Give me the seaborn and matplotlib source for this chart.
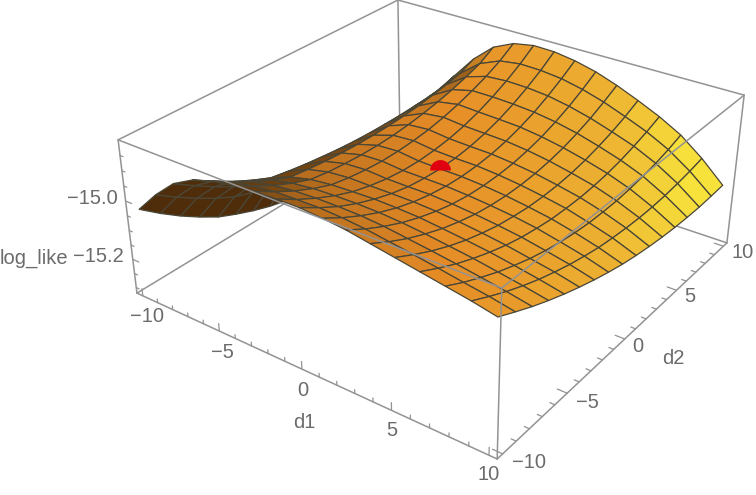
import numpy as np
import seaborn as sns
import matplotlib
matplotlib.use("Agg")
import matplotlib.pyplot as plt

sns.set_theme(style="white")
plt.rcParams['font.family'] = ['Liberation Sans', 'DejaVu Sans']

d1_grid = [-10, -8.75, -7.5, -6.25, -5, -3.75, -2.5, -1.25, 0, 1.25, 2.5, 3.75, 5, 6.25, 7.5, 8.75, 10]
d2_grid = [-10, -8.75, -7.5, -6.25, -5, -3.75, -2.5, -1.25, 0, 1.25, 2.5, 3.75, 5, 6.25, 7.5, 8.75, 10]
# one row per d2 value
log_like = [
    [-15.031,-14.956,-14.894,-14.857,-14.836,-14.823,-14.816,-14.813,-14.813,-14.818,-14.826,-14.839,-14.852,-14.865,-14.878,-14.891,-14.907],
    [-15.082,-15.000,-14.936,-14.896,-14.874,-14.861,-14.853,-14.851,-14.850,-14.854,-14.861,-14.872,-14.883,-14.895,-14.908,-14.920,-14.935],
    [-15.128,-15.040,-14.975,-14.932,-14.908,-14.894,-14.886,-14.883,-14.883,-14.885,-14.891,-14.901,-14.911,-14.922,-14.934,-14.947,-14.962],
    [-15.169,-15.076,-15.010,-14.963,-14.937,-14.922,-14.914,-14.911,-14.910,-14.912,-14.917,-14.925,-14.935,-14.945,-14.958,-14.971,-14.986],
    [-15.206,-15.107,-15.040,-14.990,-14.962,-14.945,-14.937,-14.934,-14.932,-14.934,-14.938,-14.946,-14.955,-14.965,-14.978,-14.992,-15.008],
    [-15.233,-15.127,-15.056,-15.002,-14.971,-14.955,-14.949,-14.950,-14.950,-14.951,-14.955,-14.962,-14.971,-14.982,-14.996,-15.010,-15.028],
    [-15.257,-15.144,-15.070,-15.012,-14.978,-14.961,-14.957,-14.962,-14.963,-14.963,-14.968,-14.975,-14.984,-14.995,-15.010,-15.026,-15.046],
    [-15.277,-15.159,-15.082,-15.020,-14.983,-14.965,-14.962,-14.969,-14.970,-14.971,-14.976,-14.983,-14.992,-15.004,-15.021,-15.039,-15.062],
    [-15.292,-15.172,-15.092,-15.027,-14.986,-14.966,-14.962,-14.971,-14.973,-14.974,-14.979,-14.987,-14.998,-15.011,-15.029,-15.050,-15.076],
    [-15.304,-15.182,-15.100,-15.032,-14.987,-14.964,-14.959,-14.968,-14.971,-14.972,-14.978,-14.987,-14.999,-15.013,-15.034,-15.057,-15.087],
    [-15.312,-15.190,-15.106,-15.035,-14.986,-14.959,-14.953,-14.961,-14.964,-14.966,-14.973,-14.983,-14.997,-15.013,-15.035,-15.062,-15.096],
    [-15.316,-15.195,-15.110,-15.036,-14.983,-14.951,-14.942,-14.949,-14.952,-14.955,-14.963,-14.975,-14.991,-15.009,-15.034,-15.065,-15.103],
    [-15.316,-15.199,-15.112,-15.036,-14.978,-14.941,-14.928,-14.932,-14.935,-14.939,-14.949,-14.963,-14.981,-15.002,-15.029,-15.065,-15.108],
    [-15.312,-15.199,-15.112,-15.034,-14.970,-14.928,-14.910,-14.910,-14.913,-14.919,-14.930,-14.946,-14.967,-14.991,-15.021,-15.062,-15.111],
    [-15.305,-15.198,-15.111,-15.031,-14.961,-14.912,-14.889,-14.884,-14.886,-14.893,-14.907,-14.926,-14.950,-14.976,-15.011,-15.056,-15.112],
    [-15.293,-15.194,-15.107,-15.026,-14.949,-14.893,-14.863,-14.853,-14.855,-14.863,-14.879,-14.901,-14.929,-14.959,-14.997,-15.048,-15.110],
    [-15.273,-15.180,-15.091,-15.008,-14.925,-14.862,-14.829,-14.816,-14.818,-14.829,-14.847,-14.873,-14.904,-14.938,-14.979,-15.037,-15.107],
]
peak = [0, 0, -14.975]
z_low, z_high = -15.32, -14.80
lim = 10.4

d1_tick_labels = [("\u221210", 147, 317), ("\u22125", 222, 352), ("0", 303, 390), ("5", 392, 431), ("10", 489, 475)]
d2_tick_labels = [("\u221210", 529, 462), ("\u22125", 587, 403), ("0", 638, 347), ("5", 690, 297), ("10", 743, 252)]
z_tick_labels = [("\u221215.0", 92, 198), ("\u221215.2", 98, 257)]
axis_labels = [("d1", 304, 422), ("d2", 673, 358), ("log_like", 34, 258)]

# where the box corners land in the picture, used to fit the camera
world = [[-lim, -lim, z_low], [lim, -lim, z_low], [lim, lim, z_low],
         [-lim, -lim, z_high], [lim, -lim, z_high], [lim, lim, z_high], [-lim, lim, z_high]]
pixels = [[137, 293], [497, 459], [727, 243], [118, 140], [502, 288], [744, 95], [398, 0]]


def fit_camera(world, pixels):
    scale = np.array([1, 1, 20 / (z_high - z_low), 1])
    rows = []
    for (x, y, z), (u, v) in zip(world, pixels):
        p = np.array([x, y, z, 1]) * scale
        rows.append(np.r_[p, 0, 0, 0, 0, -u * p])
        rows.append(np.r_[0, 0, 0, 0, p, -v * p])
    P = np.linalg.svd(np.array(rows))[2][-1].reshape(3, 4) * scale
    return P / (P[2] @ [0, 0, -15, 1])


camera = fit_camera(world, pixels)


def to_pixels(x, y, z):
    p = np.tensordot(camera, np.stack([x, y, z, np.ones_like(x)]), axes=1)
    return p[0] / p[2], p[1] / p[2]


fig = plt.figure(figsize=(7.56, 4.95), dpi=100)
ax = fig.add_axes([0, (495 - 756) / 2 / 495, 1, 756 / 495], projection='3d', computed_zorder=False)
ax.set_axis_off()
ax.apply_aspect()
(x0, y0), (x1, y1) = ax.transData.inverted().transform([[0, 495], [756, 0]])
M = np.array([(x1 - x0) / 756 * camera[0] + x0 * camera[2],
              (y1 - y0) / 495 * camera[1] + y0 * camera[2],
              [0, 0, 0, -1],
              camera[2]])
ax.get_proj = lambda: M

X, Y = np.meshgrid(d1_grid, d2_grid)
Z = np.array(log_like)
U, V = to_pixels(X, Y, Z)

# facet colours: brown to yellow across the picture, darker where the surface turns away
area = 0.5 * ((U[:-1, :-1] - U[1:, 1:]) * (V[:-1, 1:] - V[1:, :-1]) - (U[:-1, 1:] - U[1:, :-1]) * (V[:-1, :-1] - V[1:, 1:]))
cmap = sns.blend_palette(['#7a4a12', '#b56c1d', '#e58b26', '#edb232', '#f7e23c'], as_cmap=True)
u_mid = (U[:-1, :-1] + U[1:, 1:] + U[:-1, 1:] + U[1:, :-1]) / 4
colors = cmap(np.interp(u_mid, [130, 300, 440, 610, 690], [0, .25, .5, .75, 1]))
shade = np.clip(np.abs(area) / np.median(np.abs(area)) * 1.8, 0.62, 1)
shade[u_mid > 560] = 1
colors[..., :3] *= shade[..., None]
colors[area * np.median(area) < 0] = matplotlib.colors.to_rgba('#4f2d0a')


def seg(p, q, z, lw=1.1):
    ax.plot([p[0], q[0]], [p[1], q[1]], [p[2], q[2]], color='#939393', lw=lw, zorder=z, solid_capstyle='round')


A, B, C, D = [(-lim, -lim, z_low), (lim, -lim, z_low), (lim, lim, z_low), (-lim, lim, z_low)]
A2, B2, C2, D2 = [(-lim, -lim, z_high), (lim, -lim, z_high), (lim, lim, z_high), (-lim, lim, z_high)]
for p, q in [(A, D), (D, C), (D, D2)]:
    seg(p, q, 1)

ax.plot_surface(X, Y, Z, facecolors=colors, rcount=17, ccount=17, shade=False,
                edgecolor='#4a4636', linewidth=0.9, zorder=2, antialiased=True)
ax.plot([peak[0]], [peak[1]], [peak[2]], marker='o', ms=15, fillstyle='top', mfc='#e00010', mew=0, zorder=3)

for p, q in [(A, B), (B, C), (A, A2), (B, B2), (C, C2), (A2, B2), (B2, C2), (C2, D2), (D2, A2)]:
    seg(p, q, 4)

for v in range(-10, 11):
    major = v % 5 == 0
    seg((v, -lim, z_low), (v, -lim, z_low + (0.026 if major else 0.013)), 4, 0.9)
    seg((lim, v, z_low), (lim - (0.5 if major else 0.25), v, z_low), 4, 0.9)
for k in range(-306, -296):
    v = k * 0.05
    seg((-lim, -lim, v), (-lim + (0.4 if k % 4 == 0 else 0.2), -lim, v), 4, 0.9)

for s, x, y in d1_tick_labels + d2_tick_labels + z_tick_labels + axis_labels:
    fig.text(x / 756, 1 - y / 495, s, color='#6b6b6b', fontsize=14.5, ha='center', va='center')

fig.savefig('out.png', dpi=100)
